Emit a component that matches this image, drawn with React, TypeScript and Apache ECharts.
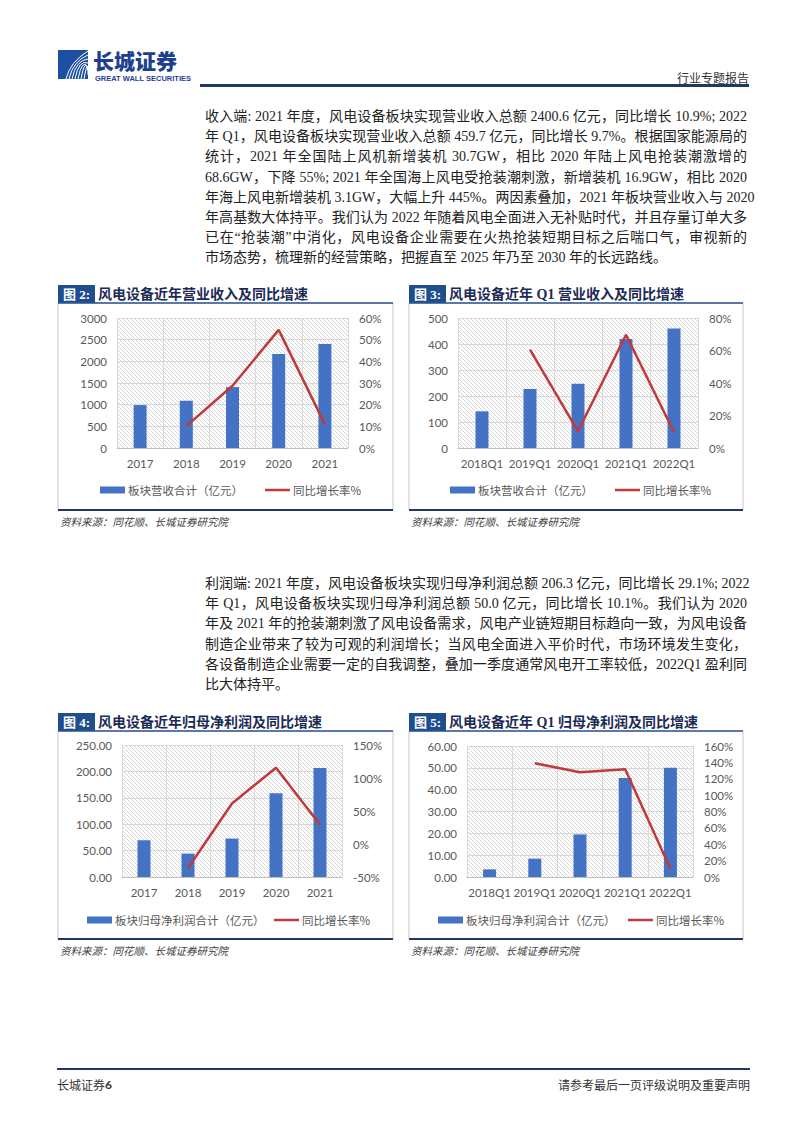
import React, { useEffect, useRef } from "react";
import * as echarts from "echarts";

// ---------- data ----------
const years = ["2017", "2018", "2019", "2020", "2021"];
const quarters = ["2018Q1", "2019Q1", "2020Q1", "2021Q1", "2022Q1"];

const revenueAnnual = [990, 1090, 1405, 2170, 2400.6];
const revenueAnnualYoY = [null, 10.1, 28.7, 54.5, 10.9];

const revenueQ1 = [141, 227, 247, 419, 459.7];
const revenueQ1YoY = [null, 60.5, 10.3, 69.7, 9.7];

const profitAnnual = [69.6, 44.3, 72.8, 158.5, 206.3];
const profitAnnualYoY = [null, -36.3, 61.4, 115.6, 29.1];

const profitQ1 = [3.5, 8.4, 19.5, 45.4, 50.0];
const profitQ1YoY = [null, 139, 128, 131.5, 10.1];

// axis ranges [min, max, interval]
const revAnnualAxis = [0, 3000, 500];
const revAnnualPctAxis = [0, 60, 10];
const revQ1Axis = [0, 500, 100];
const revQ1PctAxis = [0, 80, 20];
const profAnnualAxis = [0, 250, 50];
const profAnnualPctAxis = [-50, 150, 50];
const profQ1Axis = [0, 60, 10];
const profQ1PctAxis = [0, 160, 20];

const barNameRev = "板块营收合计（亿元）";
const barNameProf = "板块归母净利润合计（亿元）";
const lineName = "同比增长率%";

const figNums = ["图 2:", "图 3:", "图 4:", "图 5:"];
const figTitles = [
  "风电设备近年营业收入及同比增速",
  "风电设备近年 Q1 营业收入及同比增速",
  "风电设备近年归母净利润及同比增速",
  "风电设备近年 Q1 归母净利润及同比增速",
];
const sourceText = "资料来源：同花顺、长城证券研究院";

const para1 = [
  "收入端: 2021 年度，风电设备板块实现营业收入总额 2400.6 亿元，同比增长 10.9%; 2022",
  "年 Q1，风电设备板块实现营业收入总额 459.7 亿元，同比增长 9.7%。根据国家能源局的",
  "统计，2021 年全国陆上风机新增装机 30.7GW，相比 2020 年陆上风电抢装潮激增的",
  "68.6GW，下降 55%; 2021 年全国海上风电受抢装潮刺激，新增装机 16.9GW，相比 2020",
  "年海上风电新增装机 3.1GW，大幅上升 445%。两因素叠加，2021 年板块营业收入与 2020",
  "年高基数大体持平。我们认为 2022 年随着风电全面进入无补贴时代，并且存量订单大多",
  "已在“抢装潮”中消化，风电设备企业需要在火热抢装短期目标之后喘口气，审视新的",
  "市场态势，梳理新的经营策略，把握直至 2025 年乃至 2030 年的长远路线。",
];
const para2 = [
  "利润端: 2021 年度，风电设备板块实现归母净利润总额 206.3 亿元，同比增长 29.1%; 2022",
  "年 Q1，风电设备板块实现归母净利润总额 50.0 亿元，同比增长 10.1%。我们认为 2020",
  "年及 2021 年的抢装潮刺激了风电设备需求，风电产业链短期目标趋向一致，为风电设备",
  "制造企业带来了较为可观的利润增长；当风电全面进入平价时代，市场环境发生变化，",
  "各设备制造企业需要一定的自我调整，叠加一季度通常风电开工率较低，2022Q1 盈利同",
  "比大体持平。",
];

// ---------- styles ----------
const BAR = "#4472C4";
const LINE = "#C0393B";
const AXIS_TXT = "#595959";
const GRID_LINE = "#d9d9d9";
const NAVY = "#1F3864";
const SERIF = '"Liberation Serif", "Noto Sans CJK SC", serif';
const CJK = '"Noto Sans CJK SC", sans-serif';
const NUMF = 'Lato, "Noto Sans", sans-serif';

export default function App() {
  const ref = useRef<HTMLDivElement>(null);

  useEffect(() => {
    if (!ref.current) return;
    const chart = echarts.init(ref.current, null, { renderer: "svg", width: 802, height: 1133 });

    const c = document.createElement("canvas");
    c.width = 8;
    c.height = 8;
    const ctx = c.getContext("2d")!;
    ctx.fillStyle = "#ffffff";
    ctx.fillRect(0, 0, 8, 8);
    ctx.strokeStyle = "#d6d6d6";
    ctx.lineWidth = 1;
    ctx.beginPath();
    for (let k = -8; k <= 8; k += 4) {
      ctx.moveTo(k, 0);
      ctx.lineTo(k + 8, 8);
    }
    ctx.stroke();
    const hatch: any = { image: c.toDataURL(), repeat: "repeat", imageWidth: 8, imageHeight: 8 };

    const grids = [
      { left: 117, top: 318, width: 231, height: 130 },
      { left: 458, top: 318, width: 240, height: 130 },
      { left: 122, top: 745, width: 220, height: 132 },
      { left: 467, top: 746, width: 226, height: 131 },
    ].map((g) => ({ ...g, show: true, backgroundColor: hatch, borderWidth: 0 }));

    const cats = [years, quarters, years, quarters];
    const leftAxes = [revAnnualAxis, revQ1Axis, profAnnualAxis, profQ1Axis];
    const rightAxes = [revAnnualPctAxis, revQ1PctAxis, profAnnualPctAxis, profQ1PctAxis];
    const bars = [revenueAnnual, revenueQ1, profitAnnual, profitQ1];
    const lines = [revenueAnnualYoY, revenueQ1YoY, profitAnnualYoY, profitQ1YoY];
    const barNames = [barNameRev, barNameRev, barNameProf, barNameProf];

    const xAxis = cats.map((d, i) => ({
      type: "category",
      gridIndex: i,
      data: d,
      axisLine: { lineStyle: { color: "#bfbfbf", width: 1 } },
      axisTick: { show: false },
      axisLabel: { color: AXIS_TXT, fontSize: 11.5, fontFamily: NUMF, margin: 9, interval: 0 },
      splitLine: { show: true, interval: 0, lineStyle: { color: GRID_LINE, width: 1 } },
    }));

    const yAxis: any[] = [];
    for (let i = 0; i < 4; i++) {
      const la = leftAxes[i];
      const ra = rightAxes[i];
      yAxis.push({
        type: "value",
        gridIndex: i,
        position: "left",
        min: la[0],
        max: la[1],
        interval: la[2],
        axisLine: { show: false },
        axisTick: { show: false },
        axisLabel: {
          color: AXIS_TXT,
          fontSize: 11.5,
          fontFamily: NUMF,
          margin: 10,
          formatter: (v: number) => (i >= 2 ? v.toFixed(2) : String(v)),
        },
        splitLine: { show: true, lineStyle: { color: GRID_LINE, width: 1 } },
      });
      yAxis.push({
        type: "value",
        gridIndex: i,
        position: "right",
        min: ra[0],
        max: ra[1],
        interval: ra[2],
        axisLine: { show: false },
        axisTick: { show: false },
        axisLabel: { color: AXIS_TXT, fontSize: 11.5, fontFamily: NUMF, margin: 11, formatter: "{value}%" },
        splitLine: { show: false },
      });
    }

    const series: any[] = [];
    for (let i = 0; i < 4; i++) {
      series.push({
        type: "bar",
        name: barNames[i],
        xAxisIndex: i,
        yAxisIndex: i * 2,
        data: bars[i],
        barWidth: 13,
        itemStyle: { color: BAR },
      });
      series.push({
        type: "line",
        name: lineName,
        xAxisIndex: i,
        yAxisIndex: i * 2 + 1,
        data: lines[i],
        symbol: "none",
        lineStyle: { color: LINE, width: 2.5 },
      });
    }

    const panels = [
      { x0: 58, x1: 393, lineY: 303, bottomY: 510 },
      { x0: 409, x1: 743, lineY: 303, bottomY: 510 },
      { x0: 58, x1: 393, lineY: 731, bottomY: 939 },
      { x0: 409, x1: 743, lineY: 731, bottomY: 939 },
    ];
    const legends = [
      { y: 490, barX: 100, lineX: 265 },
      { y: 490, barX: 450, lineX: 615 },
      { y: 920, barX: 87, lineX: 274 },
      { y: 920, barX: 438, lineX: 628 },
    ];

    const graphic: any[] = [];
    const txt = (x: number, y: number, text: string, o: any = {}) => ({
      type: "text",
      x,
      y,
      silent: true,
      style: {
        text,
        fill: o.fill || "#333",
        fontSize: o.fontSize || 12,
        fontFamily: o.fontFamily || CJK,
        fontWeight: o.fontWeight || "normal",
        fontStyle: o.fontStyle || "normal",
        align: o.align || "left",
        textAlign: o.align || "left",
        verticalAlign: "middle",
        textVerticalAlign: "middle",
        rich: o.rich,
      },
    });
    const ln = (x1: number, y1: number, x2: number, y2: number, stroke: string, w: number) => ({
      type: "line",
      silent: true,
      shape: { x1, y1, x2, y2 },
      style: { stroke, lineWidth: w },
    });

    panels.forEach((p, i) => {
      graphic.push({
        type: "rect",
        silent: true,
        shape: { x: p.x0, y: p.lineY, width: p.x1 - p.x0, height: p.bottomY - p.lineY },
        style: { fill: "none", stroke: "#c8c8c8", lineWidth: 1 },
      });
      graphic.push({
        type: "rect",
        silent: true,
        shape: { x: p.x0, y: p.lineY - 18, width: 37, height: 18 },
        style: { fill: "#1F4E8C" },
      });
      graphic.push(txt(p.x0 + 18.5, p.lineY - 9, figNums[i], { fill: "#fff", fontSize: 13, fontWeight: "bold", fontFamily: SERIF, align: "center" }));
      graphic.push(txt(p.x0 + 40, p.lineY - 9, figTitles[i], { fill: "#1b2b55", fontSize: 14, fontWeight: "bold", fontFamily: SERIF }));
      graphic.push(ln(p.x0, p.lineY, p.x1, p.lineY, "#2F5597", 1.5));
      graphic.push(ln(p.x0, p.bottomY, p.x1, p.bottomY, NAVY, 2));
      graphic.push(txt(p.x0 + 2, p.bottomY + 11, sourceText, { fontSize: 10.5, fontStyle: "italic", fill: "#404040" }));
      const lg = legends[i];
      graphic.push({
        type: "rect",
        silent: true,
        shape: { x: lg.barX, y: lg.y - 3.5, width: 25, height: 7 },
        style: { fill: BAR },
      });
      graphic.push(txt(lg.barX + 28, lg.y, barNames[i], { fontSize: 11.5, fill: AXIS_TXT }));
      graphic.push(ln(lg.lineX, lg.y, lg.lineX + 25, lg.y, LINE, 2.5));
      graphic.push(txt(lg.lineX + 28, lg.y, lineName, { fontSize: 11.5, fill: AXIS_TXT }));
    });

    // header
    graphic.push({ type: "rect", silent: true, shape: { x: 58, y: 50, width: 30, height: 29 }, style: { fill: "#1D50A2" } });
    for (let k = 0; k < 7; k++) {
      graphic.push({
        type: "bezierCurve",
        silent: true,
        shape: { x1: 66 + k * 3, y1: 79, cpx1: 70 + k * 3, cpy1: 62 - k, x2: 88, y2: 51 + k * 4 },
        style: { stroke: "#ffffff", lineWidth: 1, fill: "none" },
      });
    }
    graphic.push(txt(93, 60, "长城证券", { fontSize: 21, fontWeight: 900, fill: "#1D3F8F" }));
    graphic.push(txt(95, 78.5, "GREAT WALL SECURITIES", { fontSize: 7.5, fontWeight: "bold", fill: "#1D3F8F", fontFamily: '"Liberation Sans", sans-serif' }));
    graphic.push(ln(200, 85.5, 749, 85.5, NAVY, 3));
    graphic.push(txt(749, 77, "行业专题报告", { fontSize: 12, align: "right", fill: "#333" }));

    // footer
    graphic.push(ln(57, 1069, 750, 1069, NAVY, 2));
    graphic.push(
      txt(57, 1084, "长城证券{b|6}", {
        fontSize: 12,
        fill: "#333",
        rich: { b: { fontWeight: "bold", fontSize: 12, fill: "#333", fontFamily: NUMF } },
      })
    );
    graphic.push(txt(750, 1084, "请参考最后一页评级说明及重要声明", { fontSize: 12, align: "right", fill: "#333" }));

    chart.setOption({
      animation: false,
      backgroundColor: "#fff",
      grid: grids,
      xAxis,
      yAxis,
      series,
      graphic,
    });
    return () => chart.dispose();
  }, []);

  const lineStyle = (top: number, last: boolean): React.CSSProperties => ({
    position: "absolute",
    left: 205,
    width: 542,
    top,
    height: 20,
    fontFamily: SERIF,
    fontSize: 14,
    lineHeight: "20px",
    color: "#222",
    whiteSpace: "nowrap",
    textAlign: last ? "left" : "justify",
    textAlignLast: last ? "left" : "justify",
  });

  return (
    <div style={{ position: "absolute", left: 0, top: 0, width: 802, height: 1133, background: "#fff", overflow: "hidden" }}>
      <div ref={ref} style={{ position: "absolute", left: 0, top: 0, width: 802, height: 1133 }} />
      {para1.map((t, i) => (
        <div key={"p1" + i} style={lineStyle(107 + i * 20.2, i === para1.length - 1)}>
          {t}
        </div>
      ))}
      {para2.map((t, i) => (
        <div key={"p2" + i} style={lineStyle(574 + i * 20.2, i === para2.length - 1)}>
          {t}
        </div>
      ))}
    </div>
  );
}
